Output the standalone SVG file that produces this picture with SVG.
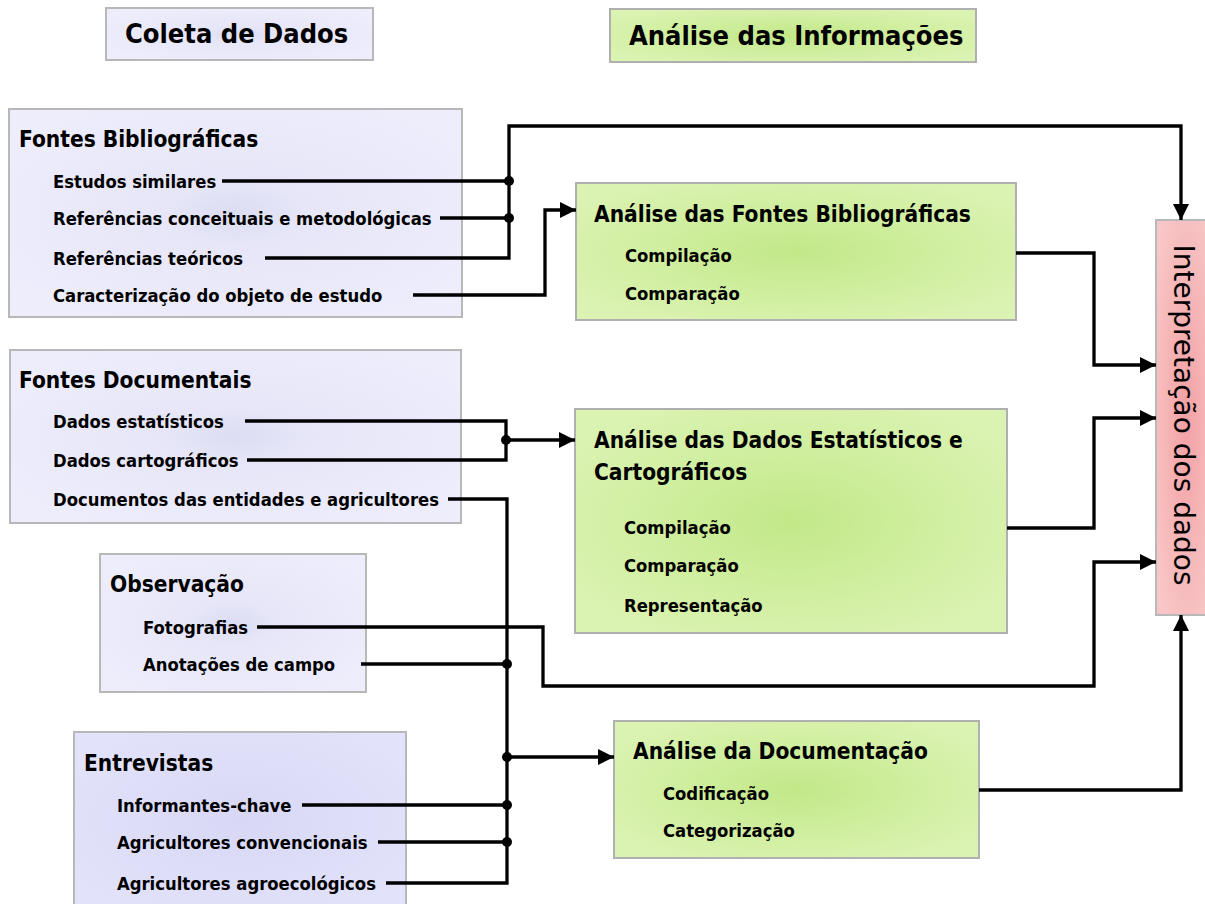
<svg xmlns="http://www.w3.org/2000/svg" width="1205" height="904" viewBox="0 0 1205 904">
<style>
text{font-family:"DejaVu Sans","Liberation Sans",sans-serif;font-stretch:condensed;font-weight:bold;fill:#000}
.hd{font-size:27px}
.tt{font-size:22.5px}
.it{font-size:18.3px}
.rt{font-size:28px;font-stretch:normal;font-weight:normal}
.lav{fill:url(#gLav);stroke:#b8b8b8;stroke-width:2}
.lav2{fill:url(#gLav2);stroke:#b8b8b8;stroke-width:2}
.grn{fill:url(#gGrn);stroke:#b0b0b0;stroke-width:2}
.red{fill:url(#gRed);stroke:#b8b8b8;stroke-width:2}
.cn{fill:none;stroke:#000;stroke-width:3.3;stroke-linejoin:miter}
.ar{marker-end:url(#arr)}
.dot{fill:#000}
</style>
<defs>
<radialGradient id="gLav" cx="0.5" cy="0.5" r="0.6">
<stop offset="0" stop-color="#dcdcf3"/>
<stop offset="0.25" stop-color="#e6e6f8"/>
<stop offset="1" stop-color="#ededfc"/>
</radialGradient>
<radialGradient id="gLav2" cx="0.5" cy="0.5" r="0.6">
<stop offset="0" stop-color="#d8d8f6"/>
<stop offset="1" stop-color="#e2e2fa"/>
</radialGradient>
<radialGradient id="gGrn" cx="0.5" cy="0.5" r="0.6">
<stop offset="0" stop-color="#c2e888"/>
<stop offset="0.5" stop-color="#cfee9e"/>
<stop offset="1" stop-color="#dbf3b2"/>
</radialGradient>
<radialGradient id="gRed" cx="0.5" cy="0.5" r="0.6">
<stop offset="0" stop-color="#f3a0a3"/>
<stop offset="1" stop-color="#f8c6c6"/>
</radialGradient>
<marker id="arr" viewBox="0 0 10 10" refX="10" refY="5" markerWidth="16" markerHeight="16" markerUnits="userSpaceOnUse" orient="auto">
<path d="M0,0 L10,5 L0,10 z" fill="#000"/>
</marker>
</defs>

<g id="hdr-coleta">
<rect class="lav" x="106" y="8" width="267" height="52"/>
<text class="hd" x="125" y="43">Coleta de Dados</text>
</g>
<g id="hdr-analise">
<rect class="grn" x="610" y="9" width="366" height="53"/>
<text class="hd" x="629" y="45">Análise das Informações</text>
</g>

<g id="fontes-bibliograficas">
<rect class="lav" x="9" y="109" width="453" height="208"/>
<text class="tt" x="19" y="147">Fontes Bibliográficas</text>
<text class="it" x="53" y="188">Estudos similares</text>
<text class="it" x="53" y="225">Referências conceituais e metodológicas</text>
<text class="it" x="53" y="265">Referências teóricos</text>
<text class="it" x="53" y="302">Caracterização do objeto de estudo</text>
</g>

<g id="fontes-documentais">
<rect class="lav" x="10" y="350" width="451" height="173"/>
<text class="tt" x="19" y="388">Fontes Documentais</text>
<text class="it" x="53" y="428">Dados estatísticos</text>
<text class="it" x="53" y="467">Dados cartográficos</text>
<text class="it" x="53" y="506">Documentos das entidades e agricultores</text>
</g>

<g id="observacao">
<rect class="lav" x="100" y="554" width="266" height="138"/>
<text class="tt" x="110" y="592">Observação</text>
<text class="it" x="143" y="634">Fotografias</text>
<text class="it" x="143" y="671">Anotações de campo</text>
</g>

<g id="entrevistas">
<rect class="lav2" x="74" y="732" width="332" height="180"/>
<text class="tt" x="84" y="771">Entrevistas</text>
<text class="it" x="117" y="812">Informantes-chave</text>
<text class="it" x="117" y="849">Agricultores convencionais</text>
<text class="it" x="117" y="890">Agricultores agroecológicos</text>
</g>

<g id="analise-fontes">
<rect class="grn" x="576" y="183" width="440" height="137"/>
<text class="tt" x="594" y="222">Análise das Fontes Bibliográficas</text>
<text class="it" x="625" y="262">Compilação</text>
<text class="it" x="625" y="300">Comparação</text>
</g>

<g id="analise-dados">
<rect class="grn" x="575" y="409" width="432" height="224"/>
<text class="tt" x="594" y="448">Análise das Dados Estatísticos e</text>
<text class="tt" x="594" y="480">Cartográficos</text>
<text class="it" x="624" y="534">Compilação</text>
<text class="it" x="624" y="572">Comparação</text>
<text class="it" x="624" y="612">Representação</text>
</g>

<g id="analise-documentacao">
<rect class="grn" x="614" y="721" width="365" height="137"/>
<text class="tt" x="633" y="759">Análise da Documentação</text>
<text class="it" x="663" y="800">Codificação</text>
<text class="it" x="663" y="837">Categorização</text>
</g>

<g id="interpretacao">
<rect class="red" x="1156" y="220" width="60" height="395"/>
<text class="rt" x="0" y="0" transform="translate(1174,415) rotate(90)" text-anchor="middle">Interpretação dos dados</text>
</g>

<g id="connectors">
<path class="cn" d="M222,181 H509"/>
<path class="cn" d="M440,218 H509"/>
<path class="cn ar" d="M265,258 H509 V126 H1181 V220"/>
<path class="cn ar" d="M413,295 H545 V210 H576"/>
<path class="cn ar" d="M1016,253 H1094 V365 H1156"/>
<path class="cn" d="M245,421 H506 V460 H247"/>
<path class="cn ar" d="M506,440 H575"/>
<path class="cn ar" d="M1007,528 H1094 V418 H1156"/>
<path class="cn" d="M448,499 H507 V883 H386"/>
<path class="cn" d="M361,664 H507"/>
<path class="cn ar" d="M507,757 H614"/>
<path class="cn" d="M302,805 H507"/>
<path class="cn" d="M378,842 H507"/>
<path class="cn ar" d="M257,627 H543 V686 H1094 V562 H1156"/>
<path class="cn ar" d="M979,790 H1181 V615"/>
<circle class="dot" cx="509" cy="181" r="5"/>
<circle class="dot" cx="509" cy="218" r="5"/>
<circle class="dot" cx="506" cy="440" r="5"/>
<circle class="dot" cx="507" cy="664" r="5"/>
<circle class="dot" cx="507" cy="757" r="5"/>
<circle class="dot" cx="507" cy="805" r="5"/>
<circle class="dot" cx="507" cy="842" r="5"/>
</g>
</svg>
